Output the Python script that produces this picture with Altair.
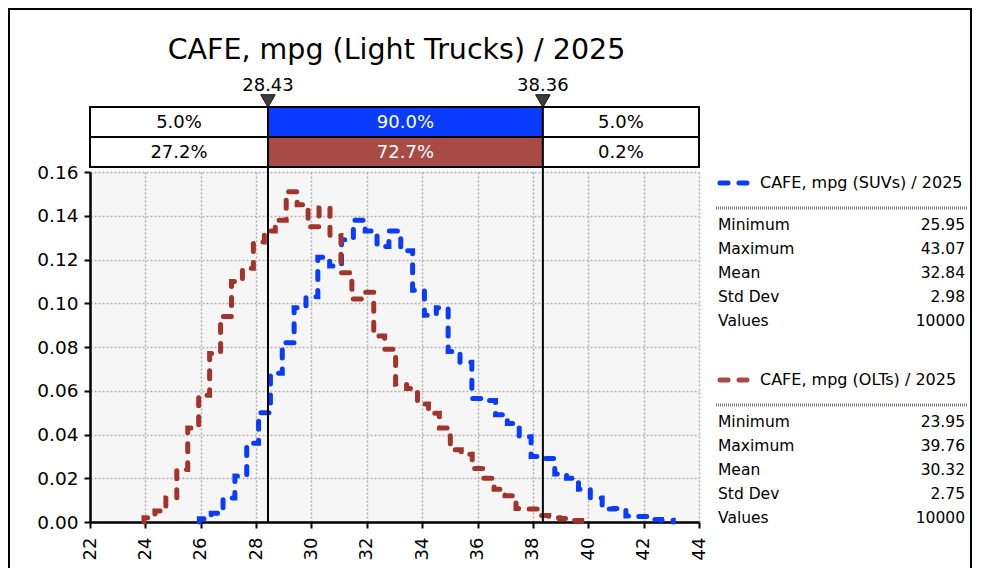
import altair as alt
import pandas as pd
import numpy as np

# ---------------- data ----------------
title_text = "CAFE, mpg (Light Trucks) / 2025"
suv_name = "CAFE, mpg (SUVs) / 2025"
olt_name = "CAFE, mpg (OLTs) / 2025"

# histogram: 40 bins between each series' minimum and maximum, density per bin
suv_min, suv_max = 25.95, 43.07
olt_min, olt_max = 23.95, 39.76
suv_density = [0.0015, 0.004, 0.011, 0.021, 0.036, 0.050, 0.068, 0.082, 0.098, 0.103,
               0.121, 0.117, 0.129, 0.138, 0.133, 0.126, 0.133, 0.124, 0.106, 0.0945,
               0.098, 0.078, 0.073, 0.0565, 0.0555, 0.049, 0.045, 0.039, 0.030, 0.029,
               0.022, 0.020, 0.015, 0.011, 0.006, 0.0062, 0.0028, 0.0025, 0.0012, 0.0008]
olt_density = [0.002, 0.005, 0.011, 0.024, 0.043, 0.058, 0.077, 0.094, 0.110, 0.116,
               0.128, 0.133, 0.138, 0.151, 0.145, 0.135, 0.1435, 0.131, 0.114, 0.102,
               0.105, 0.085, 0.079, 0.063, 0.061, 0.054, 0.0497, 0.043, 0.033, 0.031,
               0.0245, 0.020, 0.015, 0.012, 0.0062, 0.006, 0.003, 0.002, 0.0016, 0.0007]

delimiters = [28.43, 38.36]
delim_labels = ["28.43", "38.36"]
x_min, x_max = 22, 44
row1_pct = ["5.0%", "90.0%", "5.0%"]
row2_pct = ["27.2%", "72.7%", "0.2%"]

stat_labels = ["Minimum", "Maximum", "Mean", "Std Dev", "Values"]
suv_stats = ["25.95", "43.07", "32.84", "2.98", "10000"]
olt_stats = ["23.95", "39.76", "30.32", "2.75", "10000"]

BLUE = "#0a3cff"
RED = "#a3342b"
RED_CELL = "#a84b47"
FONT = "DejaVu Sans"

W, H = 609, 350


def step_rows(lo, hi, dens, name):
    edges = np.linspace(lo, hi, len(dens) + 1)
    rows = [(edges[0], 0.0)]
    for k, d in enumerate(dens):
        rows.append((edges[k], d))
    rows.append((edges[-1], 0.0))
    return [{"x": float(a), "y": float(b), "series": name, "order": i}
            for i, (a, b) in enumerate(rows)]


hist = pd.DataFrame(step_rows(suv_min, suv_max, suv_density, suv_name)
                    + step_rows(olt_min, olt_max, olt_density, olt_name))

xscale = alt.Scale(domain=[x_min, x_max], nice=False, zero=False)
yscale = alt.Scale(domain=[0, 0.16], nice=False)

base = alt.Chart(hist)

lines = base.mark_line(interpolate="step-after", strokeWidth=5, strokeDash=[8, 11],
                       strokeCap="round").encode(
    x=alt.X("x:Q", scale=xscale, title=None,
            axis=alt.Axis(values=list(range(22, 45, 2)), labelAngle=270, format="d",
                          labelPadding=9, labelFontSize=18)),
    y=alt.Y("y:Q", scale=yscale, title=None,
            axis=alt.Axis(values=[0, 0.02, 0.04, 0.06, 0.08, 0.10, 0.12, 0.14, 0.16], format=".2f",
                          labelPadding=6, labelFontSize=18.5)),
    color=alt.Color("series:N", scale=alt.Scale(domain=[suv_name, olt_name], range=[BLUE, RED]), legend=None),
    order="order:Q",
    detail="series:N",
)

# delimiter rules
delim_df = pd.DataFrame({"x": delimiters, "label": delim_labels})
rules = alt.Chart(delim_df).mark_rule(color="black", strokeWidth=2).encode(
    x=alt.X("x:Q", scale=xscale), y=alt.value(-65), y2=alt.value(H))
tri = alt.Chart(delim_df).mark_point(shape="triangle-down", filled=True, size=210,
                                     fill="#3d3d3d", stroke="#111111", strokeWidth=1, opacity=1).encode(
    x=alt.X("x:Q", scale=xscale), y=alt.value(-71))
dlab = alt.Chart(delim_df).mark_text(font=FONT, fontSize=18, baseline="alphabetic", color="black").encode(
    x=alt.X("x:Q", scale=xscale), y=alt.value(-81), text="label:N")

# table
bounds = [x_min] + delimiters + [x_max]
cells = []
for r, (pcts, mid_fill, mid_text) in enumerate([(row1_pct, BLUE, "white"), (row2_pct, RED_CELL, "white")]):
    for i in range(3):
        cells.append({"row": r, "lo": bounds[i], "hi": bounds[i + 1],
                      "mid": (bounds[i] + bounds[i + 1]) / 2, "label": pcts[i],
                      "fill": mid_fill if i == 1 else "white",
                      "tcol": mid_text if i == 1 else "black"})
cells_df = pd.DataFrame(cells)

table_layers = []
for r, (y0, y1) in enumerate([(-65, -35), (-35, -5)]):
    c = alt.Chart(cells_df).transform_filter(alt.datum.row == r)
    table_layers.append(c.mark_rect(stroke="black", strokeWidth=2).encode(
        x=alt.X("lo:Q", scale=xscale), x2="hi:Q", y=alt.value(y0), y2=alt.value(y1),
        fill=alt.Fill("fill:N", scale=None)))
    table_layers.append(c.mark_text(font=FONT, fontSize=18, baseline="middle").encode(
        x=alt.X("mid:Q", scale=xscale), y=alt.value((y0 + y1) / 2 + 1), text="label:N",
        color=alt.Color("tcol:N", scale=None)))

# title
title_df = pd.DataFrame({"t": [title_text]})
title = alt.Chart(title_df).mark_text(font=FONT, fontSize=28.5, baseline="alphabetic", color="black").encode(
    x=alt.value(W / 2 + 2), y=alt.value(-113), text="t:N")

# frame
frame = alt.Chart(title_df).mark_rect(fillOpacity=0, stroke="black", strokeWidth=2).encode(
    x=alt.value(-81), x2=alt.value(881), y=alt.value(-163), y2=alt.value(430))

# legend / statistics
side = []
for name, color, stats, top in [(suv_name, BLUE, suv_stats, 11), (olt_name, RED_CELL, olt_stats, 208)]:
    d = pd.DataFrame({"name": [name]})
    side.append(alt.Chart(d).mark_rule(color=color, strokeWidth=5, strokeDash=[8, 11], strokeCap="round").encode(
        x=alt.value(630), x2=alt.value(660), y=alt.value(top)))
    side.append(alt.Chart(d).mark_text(font=FONT, fontSize=16, align="left", baseline="middle", color="black").encode(
        x=alt.value(670), y=alt.value(top), text="name:N"))
    side.append(alt.Chart(d).mark_rule(color="#7a7a7a", strokeWidth=3, strokeDash=[1, 1]).encode(
        x=alt.value(626), x2=alt.value(878), y=alt.value(top + 25)))
    sd = pd.DataFrame({"lab": stat_labels, "val": stats, "i": list(range(len(stat_labels)))})
    for i in range(len(stat_labels)):
        ci = alt.Chart(sd).transform_filter(alt.datum.i == i)
        yy = top + 42 + 24 * i
        side.append(ci.mark_text(font=FONT, fontSize=15.5, align="left", baseline="middle", color="black").encode(
            x=alt.value(628), y=alt.value(yy), text="lab:N"))
        side.append(ci.mark_text(font=FONT, fontSize=15.5, align="right", baseline="middle", color="black").encode(
            x=alt.value(875), y=alt.value(yy), text="val:N"))

chart = alt.layer(frame, lines, rules, *table_layers, tri, dlab, title, *side).properties(
    width=W, height=H,
    autosize="none",
    padding={"left": 82, "top": 164, "right": 274, "bottom": 46},
    background="white",
).configure_view(fill="#f6f6f6", stroke=None).configure_axis(
    grid=True, gridColor="#b0b0b0", gridDash=[2, 2], gridWidth=1.5,
    domainColor="black", domainWidth=2.5, tickColor="black", tickWidth=2, tickSize=6,
    labelFont=FONT, labelFontSize=17, labelColor="black",
)

chart.save("out.html", embed_options={"renderer": "svg", "actions": False})
